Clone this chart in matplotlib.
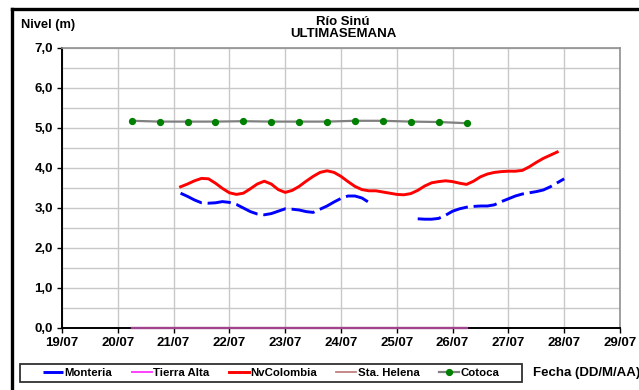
import numpy as np
import matplotlib
matplotlib.use("Agg")
import matplotlib.pyplot as plt
from matplotlib.lines import Line2D
from matplotlib.patches import Rectangle

plt.rcParams["font.family"] = ["Liberation Sans", "DejaVu Sans"]
plt.rcParams["font.weight"] = "bold"

# ---- data (x = days since 19/07 00:00) ----
day_labels = ["19/07", "20/07", "21/07", "22/07", "23/07", "24/07",
              "25/07", "26/07", "27/07", "28/07", "29/07"]

# 3-hourly readings
t3h = 2.125 + 0.125 * np.arange(56)

monteria = [3.37, 3.29, 3.20, 3.13, 3.12, 3.13, 3.16, 3.14, 3.09, 3.00,
            2.91, 2.85, 2.83, 2.86, 2.92, 2.98, 2.97, 2.95, 2.91, 2.89,
            2.97, 3.05, 3.15, 3.24, 3.30, 3.30, 3.25, 3.14,
            np.nan, np.nan, np.nan, np.nan, np.nan, np.nan,
            2.73, 2.72, 2.72, 2.74, 2.82, 2.92, 2.98, 3.02, 3.04, 3.05,
            3.05, 3.08, 3.16, 3.23, 3.30, 3.35, 3.38, 3.41, 3.45, 3.53,
            3.63, 3.73]

nvcolombia = [3.53, 3.60, 3.68, 3.74, 3.73, 3.62, 3.49, 3.38, 3.34, 3.37,
              3.48, 3.60, 3.67, 3.60, 3.46, 3.39, 3.44, 3.54, 3.67, 3.79,
              3.89, 3.93, 3.89, 3.79, 3.66, 3.54, 3.46, 3.43, 3.43, 3.40,
              3.37, 3.34, 3.33, 3.36, 3.44, 3.55, 3.63, 3.66, 3.68, 3.66,
              3.62, 3.59, 3.67, 3.78, 3.85, 3.89, 3.91, 3.92, 3.92, 3.94,
              4.03, 4.14, 4.24, 4.32, 4.40]

# 12-hourly readings
t12h = 1.25 + 0.5 * np.arange(13)
cotoca = [5.18, 5.16, 5.16, 5.16, 5.17, 5.16, 5.16, 5.16, 5.18, 5.18,
          5.16, 5.15, 5.12]
tierra_alta = [0.0] * 13
sta_helena = [0.0] * 13

# ---- figure ----
W, H = 639, 390
fig = plt.figure(figsize=(W / 100, H / 100), dpi=100)
fig.patch.set_facecolor("white")

def fx(px):
    return px / W

def fy(py):
    return 1 - py / H

ax = fig.add_axes([fx(62), fy(328), fx(620) - fx(62), fy(48) - fy(328)])

ax.plot(t3h, monteria, color="#0000FF", lw=2.1, dashes=(8, 2),
        solid_capstyle="butt", label="Monteria", zorder=4)
ax.plot(t12h, tierra_alta, color="#FF40FF", lw=1.4, label="Tierra Alta",
        zorder=3, clip_on=False)
ax.plot(t3h[:len(nvcolombia)], nvcolombia, color="#FF0000", lw=2.1,
        label="NvColombia", zorder=4)
ax.plot(t12h, sta_helena, color="#A0448E", lw=1.7, label="Sta. Helena",
        zorder=3, clip_on=False)
ax.plot(t12h, cotoca, color="#808080", lw=1.6, marker="o", ms=4.2,
        mfc="#008000", mec="#008000", label="Cotoca", zorder=4)

ax.set_xlim(0, 10)
ax.set_ylim(0, 7)
ax.set_xticks(np.arange(11))
ax.set_xticklabels(day_labels)
ax.set_yticks(np.arange(0, 8))
ax.set_yticklabels([f"{v:.1f}".replace(".", ",") for v in range(8)])
ax.set_yticks(np.arange(0.5, 7, 1.0), minor=True)

ax.grid(True, which="major", color="#C8C8C8", lw=1.0, zorder=0)
ax.grid(True, which="minor", axis="y", color="#C8C8C8", lw=1.0, zorder=0)
ax.set_axisbelow(True)

ax.tick_params(axis="both", which="major", direction="out", length=3.5,
               width=1.0, color="black", labelsize=9.5, pad=3)
ax.tick_params(axis="y", which="minor", length=0)
for lab in ax.get_xticklabels() + ax.get_yticklabels():
    lab.set_fontweight("bold")

ax.spines["left"].set_color("black")
ax.spines["left"].set_linewidth(1.4)
ax.spines["bottom"].set_color("black")
ax.spines["bottom"].set_linewidth(1.4)
ax.spines["top"].set_color("#909090")
ax.spines["top"].set_linewidth(1.2)
ax.spines["right"].set_color("#909090")
ax.spines["right"].set_linewidth(1.2)

# ---- titles ----
fig.text(fx(343), fy(22), "Río Sinú", ha="center", va="center",
         fontsize=9.5, fontweight="bold")
fig.text(fx(343), fy(34), "ULTIMASEMANA", ha="center", va="center",
         fontsize=9.5, fontweight="bold")
fig.text(fx(21), fy(25), "Nivel (m)", ha="left", va="center",
         fontsize=9.3, fontweight="bold")
fig.text(fx(533), fy(373), "Fecha (DD/M/AA)", ha="left", va="center",
         fontsize=9.5, fontweight="bold")

# ---- legend ----
fig.patches.append(Rectangle((fx(20), fy(382)), fx(522) - fx(20),
                             fy(364) - fy(382), transform=fig.transFigure,
                             fill=False, edgecolor="#303030", lw=1.3))
handles, labels = ax.get_legend_handles_labels()
leg = fig.legend(handles, labels, loc="center left",
                 bbox_to_anchor=(fx(43), fy(373)), ncol=5, frameon=False,
                 fontsize=8.2, handlelength=1.75, handletextpad=0.12,
                 columnspacing=1.72, borderpad=0, borderaxespad=0,
                 numpoints=1)
for txt in leg.get_texts():
    txt.set_fontweight("bold")
leg.legend_handles[3].set_color("#C08080")
leg.legend_handles[3].set_linewidth(1.3)

# ---- outer frame ----
fig.lines.append(Line2D([fx(11.5), 1.0], [fy(8.5), fy(8.5)],
                        transform=fig.transFigure, color="black", lw=2.4))
fig.lines.append(Line2D([fx(11.5), fx(11.5)], [0.0, fy(8.5)],
                        transform=fig.transFigure, color="black", lw=2.4))

fig.savefig("out.png", dpi=100)
